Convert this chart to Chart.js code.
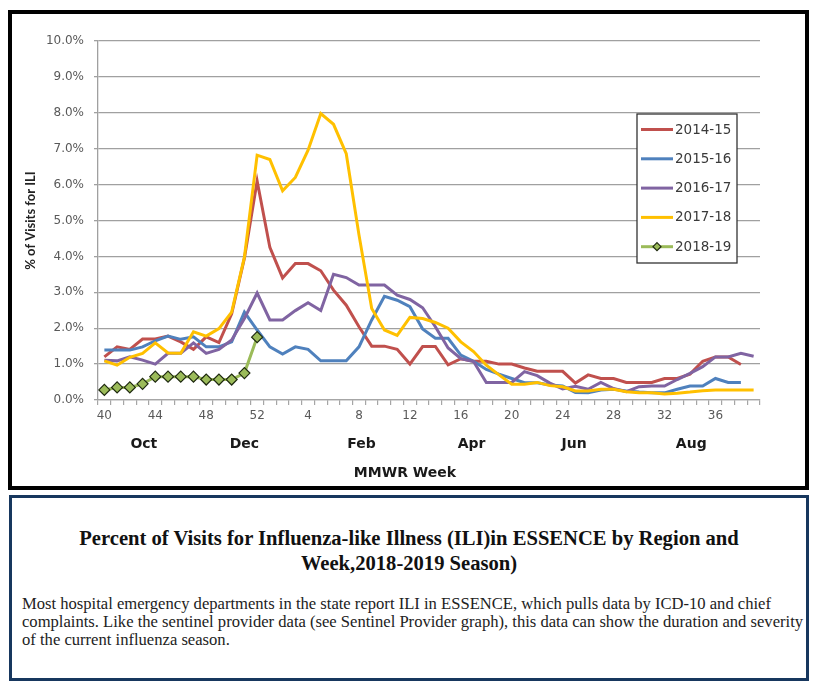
<!DOCTYPE html>
<html>
<head>
<meta charset="utf-8">
<script src="https://cdn.jsdelivr.net/npm/chart.js@4.4.1/dist/chart.umd.min.js"></script>
<style>
html,body{margin:0;padding:0;background:#fff;width:831px;height:687px;overflow:hidden;}
#frame{position:absolute;left:8px;top:10px;width:801px;height:480px;border:4px solid #000;box-sizing:border-box;background:#fff;}
#frame canvas{position:absolute;left:0;top:0;}
#info{position:absolute;left:9px;top:495px;width:800px;height:186px;border:3px solid #17375E;box-sizing:border-box;background:#fff;}
#info h2{position:absolute;left:0;right:0;top:28px;margin:0;text-align:center;font:bold 20.6px/25px "Liberation Serif",serif;color:#111;}
#info p{position:absolute;left:10px;top:97px;margin:0;font:16.6px/18px "Liberation Serif",serif;color:#222;white-space:nowrap;}
</style>
</head>
<body>
<div id="frame"><canvas id="c" width="793" height="472" style="width:793px;height:472px"></canvas></div>
<div id="info">
<h2>Percent of Visits for Influenza-like Illness (ILI)in ESSENCE by Region and<br>Week,2018-2019 Season)</h2>
<p>Most hospital emergency departments in the state report ILI in ESSENCE, which pulls data by ICD-10 and chief<br>complaints. Like the sentinel provider data (see Sentinel Provider graph), this data can show the duration and severity<br>of the current influenza season.</p>
</div>
<script>
// MMWR weeks (categories)
const weeks = [40,41,42,43,44,45,46,47,48,49,50,51,52,1,2,3,4,5,6,7,8,9,10,11,12,13,14,15,16,17,18,19,20,21,22,23,24,25,26,27,28,29,30,31,32,33,34,35,36,37,38,39];
// month labels and their positions (category index units)
const monthNames = ['Oct','Dec','Feb','Apr','Jun','Aug'];
const monthPos = [3.1, 11, 20.2, 28.85, 36.9, 46.1];
const seriesLabels = ['2014-15','2015-16','2016-17','2017-18','2018-19'];
const seriesColors = ['#C0504D','#4F81BD','#8064A2','#FFC000','#9BBB59'];

// % of visits for ILI
const s1415 = [1.2,1.48,1.41,1.7,1.7,1.78,1.62,1.41,1.76,1.6,2.4,3.95,6.1,
  4.25,3.4,3.8,3.8,3.6,3.06,2.64,2.04,1.5,1.5,1.41,1.0,
  1.49,1.49,0.98,1.15,1.08,1.08,1.0,1.0,0.89,0.8,0.8,0.8,0.47,0.7,0.6,0.6,0.49,0.49,0.49,0.6,0.6,0.72,1.08,1.2,1.2,0.99,null];
const s1516 = [1.39,1.39,1.39,1.48,1.65,1.78,1.69,1.76,1.48,1.48,1.62,2.45,1.95,
  1.48,1.28,1.48,1.41,1.09,1.09,1.09,1.48,2.23,2.89,2.78,2.6,
  1.98,1.72,1.72,1.25,1.08,0.85,0.72,0.6,0.48,0.48,0.42,0.39,0.21,0.2,0.28,0.3,0.25,0.22,0.2,0.2,0.3,0.39,0.39,0.6,0.49,0.49,null];
const s1617 = [1.11,1.09,1.2,1.11,1.0,1.3,1.3,1.59,1.3,1.41,1.67,2.27,2.98,
  2.23,2.23,2.49,2.71,2.49,3.5,3.41,3.2,3.2,3.2,2.92,2.8,
  2.57,2.04,1.45,1.15,1.07,0.49,0.49,0.49,0.79,0.68,0.47,0.31,0.38,0.3,0.49,0.32,0.23,0.37,0.39,0.39,0.57,0.74,0.93,1.2,1.2,1.3,1.22];
const s1718 = [1.09,0.97,1.19,1.3,1.59,1.31,1.3,1.9,1.78,1.99,2.45,3.98,6.82,
  6.7,5.83,6.2,6.96,7.98,7.68,6.86,4.6,2.55,1.95,1.8,2.3,
  2.27,2.16,2.0,1.62,1.35,0.97,0.7,0.44,0.44,0.49,0.4,0.37,0.25,0.25,0.3,0.3,0.23,0.2,0.2,0.17,0.19,0.22,0.26,0.28,0.28,0.28,0.28];
const s1819 = [0.28,0.35,0.35,0.45,0.65,0.65,0.65,0.65,0.57,0.57,0.57,0.75,1.75];

const yTicks = {min:0, max:10, step:1};

const boxLegend = {
  id:'boxLegend',
  afterDatasetsDraw(chart){
    const ctx = chart.ctx, ca = chart.chartArea;
    const w = 100, h = 149;
    const bx = ca.right - 23 - w, by = ca.top + 73;
    ctx.save();
    ctx.fillStyle = '#fff';
    ctx.fillRect(bx, by, w, h);
    ctx.strokeStyle = '#333';
    ctx.lineWidth = 1.3;
    ctx.strokeRect(bx, by, w, h);
    ctx.font = '13.5px "DejaVu Sans"';
    ctx.textBaseline = 'middle';
    ctx.textAlign = 'left';
    chart.data.datasets.forEach((ds, k) => {
      const y = by + 15.5 + k * 29.3;
      ctx.strokeStyle = ds.borderColor;
      ctx.lineWidth = 3;
      ctx.beginPath(); ctx.moveTo(bx + 4, y); ctx.lineTo(bx + 36, y); ctx.stroke();
      if (ds.pointRadius > 0) {
        const cx = bx + 20, r = 4;
        ctx.beginPath();
        ctx.moveTo(cx, y - r); ctx.lineTo(cx + r, y); ctx.lineTo(cx, y + r); ctx.lineTo(cx - r, y); ctx.closePath();
        ctx.fillStyle = ds.pointBackgroundColor; ctx.fill();
        ctx.strokeStyle = ds.pointBorderColor; ctx.lineWidth = 1.2; ctx.stroke();
      }
      ctx.fillStyle = '#3a3a3a';
      ctx.fillText(ds.label, bx + 38, y + 0.5);
    });
    ctx.restore();
  }
};

const xTitle = {
  id:'xTitle',
  afterDraw(chart){
    const ctx = chart.ctx, ca = chart.chartArea;
    ctx.save();
    ctx.font = 'bold 14px "DejaVu Sans"';
    ctx.fillStyle = '#1a1a1a';
    ctx.textAlign = 'center';
    ctx.textBaseline = 'middle';
    ctx.fillText('MMWR Week', ca.left + 0.4637 * (ca.right - ca.left), ca.bottom + 73);
    ctx.restore();
  }
};

const sets = [s1415, s1516, s1617, s1718, s1819];
const drawOrder = [4, 3, 2, 1, 0];
const datasets = sets.map((d, i) => {
  const isLast = i === 4;
  return {
    label: seriesLabels[i],
    data: d,
    borderColor: seriesColors[i],
    backgroundColor: seriesColors[i],
    borderWidth: 3,
    tension: 0,
    fill: false,
    spanGaps: false,
    order: drawOrder[i],
    pointRadius: isLast ? 5.5 : 0,
    pointStyle: 'rectRot',
    pointBackgroundColor: '#9BBB59',
    pointBorderColor: '#1f2a10',
    pointBorderWidth: 1.2
  };
});

new Chart(document.getElementById('c'), {
  type: 'line',
  data: { labels: weeks, datasets: datasets },
  options: {
    responsive: false,
    animation: false,
    layout: { padding: { top: 27, right: 45, left: 0, bottom: 0 } },
    plugins: { legend: { display: false }, tooltip: { enabled: false } },
    scales: {
      x: {
        type: 'category',
        offset: true,
        grid: { display: true, drawOnChartArea: false, drawTicks: true, tickLength: 5, offset: true, color: '#a6a6a6', lineWidth: 1.2 },
        border: { color: '#a6a6a6', width: 1.3 },
        ticks: { autoSkip: false, maxRotation: 0, padding: 4, color: '#595959', font: { family: 'DejaVu Sans', size: 12 },
          callback: function(v, i){ return i % 4 === 0 ? String(weeks[i]) : ''; } },
        afterFit: s => { s.height = 30; }
      },
      x2: {
        type: 'linear',
        position: 'bottom',
        weight: 1,
        min: -0.5, max: 51.5,
        grid: { display: false, drawTicks: false },
        border: { display: false },
        afterBuildTicks: s => { s.ticks = monthPos.map(v => ({ value: v })); },
        ticks: { autoSkip: false, maxRotation: 0, padding: 6, color: '#1a1a1a', font: { family: 'DejaVu Sans', size: 14, weight: 'bold' },
          callback: v => monthNames[monthPos.indexOf(v)] },
        afterFit: s => { s.height = 56; }
      },
      y: {
        min: yTicks.min, max: yTicks.max,
        ticks: { stepSize: yTicks.step, padding: 10, color: '#595959', font: { family: 'DejaVu Sans', size: 12 },
          callback: v => Number(v).toFixed(1) + '%' },
        grid: { color: '#a0a0a0', lineWidth: 1.3, tickLength: 4 },
        border: { color: '#a0a0a0', width: 1.3 },
        title: { display: true, text: '% of Visits for ILI', color: '#222', font: { family: 'Lato', size: 13, weight: 'bold' }, padding: { top: 11, bottom: 0 } },
        afterFit: s => { s.width = 86; }
      }
    }
  },
  plugins: [boxLegend, xTitle]
});
</script>
</body>
</html>
